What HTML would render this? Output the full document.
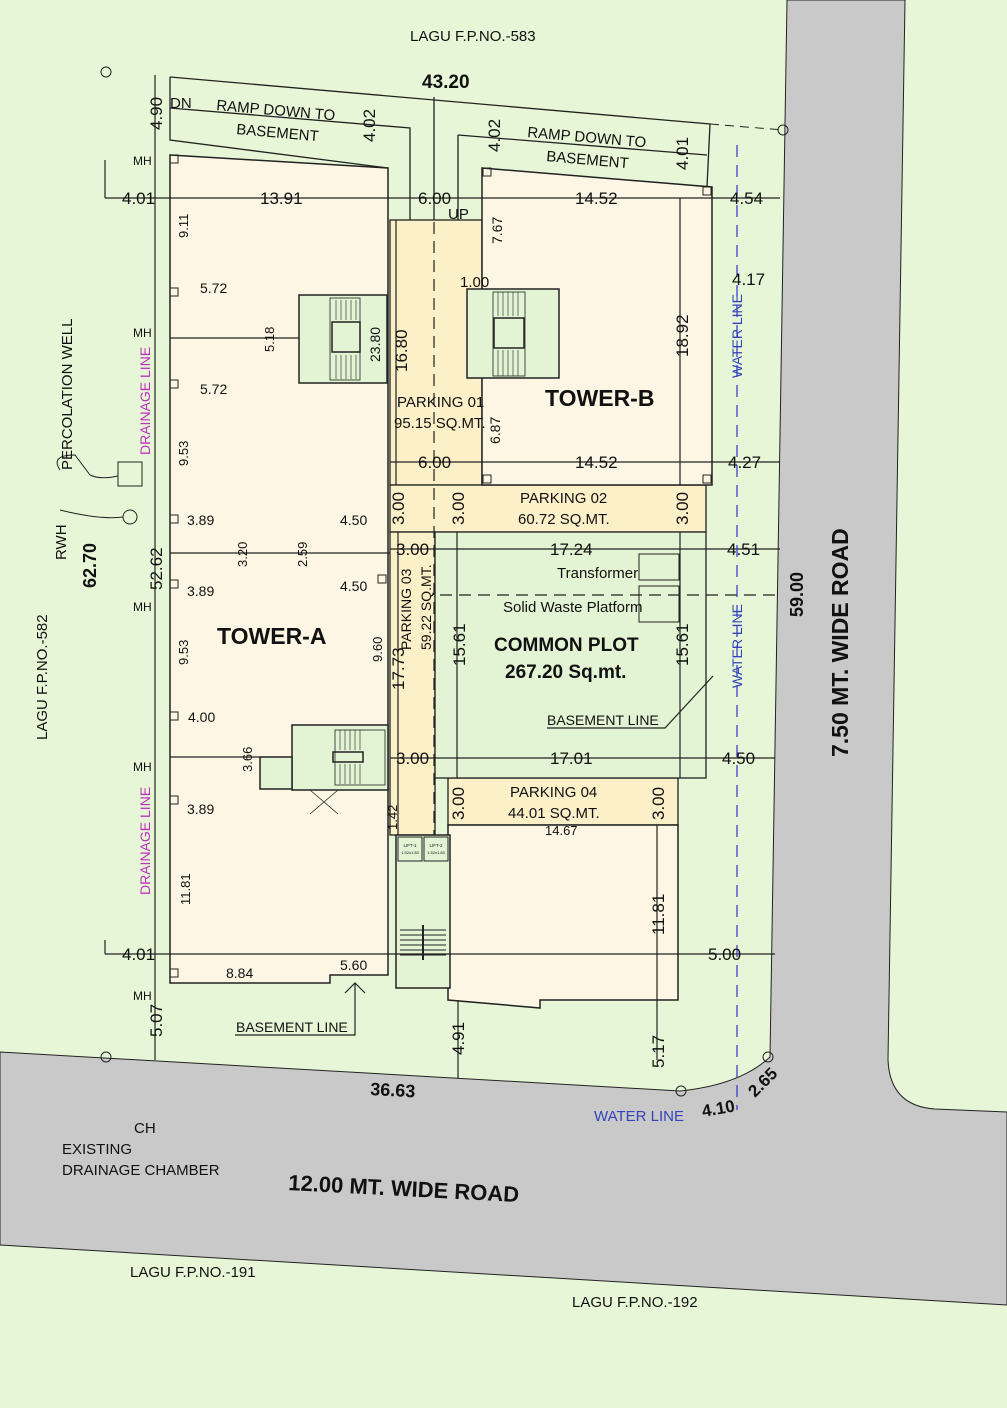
<!DOCTYPE html>
<html><head><meta charset="utf-8"><style>
html,body{margin:0;padding:0;background:#e6f6d6;}
svg{display:block}
text{font-family:"Liberation Sans Narrow","Liberation Sans",sans-serif;fill:#111;}
</style></head><body>
<svg width="1007" height="1408" viewBox="0 0 1007 1408" xmlns="http://www.w3.org/2000/svg">
<rect width="1007" height="1408" fill="#e6f6d6"/>
<path d="M0,1052 L680,1091 Q740,1085 770,1057 L787,0 L905,0 L888,1060 Q890,1106 935,1109 L1007,1112 L1007,1305 L0,1245 Z" fill="#c9c9c9" stroke="#222" stroke-width="1"/>
<g fill="none" stroke="#222" stroke-width="1.3">
<path d="M170,77 L710,124 L707,187"/>
<path d="M170,77 L170,140 L388,168"/>
<path d="M170,108 L410,128 L410,222"/>
<path d="M434,97 L434,222"/>
<path d="M458,135 L458,222"/>
<path d="M458,135 L707,155"/>
</g>
<path d="M710,124 L783,130" stroke="#222" stroke-dasharray="9,6" fill="none"/>
<path d="M170,155 L388,168 L388,975 L330,975 L330,983 L170,983 Z" fill="#fdf6e4" stroke="#222" stroke-width="1.5"/>
<rect x="390" y="220" width="92" height="265" fill="#fcf0c9" stroke="#222" stroke-width="1.3"/>
<rect x="390" y="485" width="316" height="47" fill="#fcf0c9" stroke="#222" stroke-width="1.3"/>
<rect x="390" y="532" width="45" height="303" fill="#fcf0c9" stroke="#222" stroke-width="1.3"/>
<rect x="448" y="778" width="230" height="47" fill="#fcf0c9" stroke="#222" stroke-width="1.3"/>
<path d="M482,168 L712,187 L712,485 L482,485 Z" fill="#fdf6e4" stroke="#222" stroke-width="1.5"/>
<rect x="435" y="532" width="271" height="246" fill="#e2f4d3" stroke="#222" stroke-width="1.3"/>
<path d="M448,825 L678,825 L678,1000 L540,1000 L540,1008 L448,1000 Z" fill="#fdf6e4" stroke="#222" stroke-width="1.5"/>
<rect x="396" y="835" width="54" height="153" fill="#e2f4d3" stroke="#222" stroke-width="1.5"/>
<rect x="398" y="837" width="24" height="24" fill="#e2f4d3" stroke="#222"/>
<rect x="424" y="837" width="24" height="24" fill="#e2f4d3" stroke="#222"/>
<text x="410" y="847" font-size="4.5" text-anchor="middle">LIFT-1</text><text x="436" y="847" font-size="4.5" text-anchor="middle">LIFT-2</text>
<text x="410" y="854" font-size="4" text-anchor="middle">1.52x1.83</text><text x="436" y="854" font-size="4" text-anchor="middle">1.52x1.83</text>
<g stroke="#222" stroke-width="1">
<line x1="400" y1="930" x2="446" y2="930"/><line x1="400" y1="935" x2="446" y2="935"/><line x1="400" y1="940" x2="446" y2="940"/><line x1="400" y1="945" x2="446" y2="945"/><line x1="400" y1="950" x2="446" y2="950"/><line x1="400" y1="955" x2="446" y2="955"/><line x1="423" y1="925" x2="423" y2="960" stroke-width="2"/>
</g>
<g fill="#e2f4d3" stroke="#222" stroke-width="1.5">
<rect x="299" y="295" width="88" height="88"/>
<rect x="467" y="289" width="92" height="89"/>
<rect x="292" y="725" width="96" height="65"/>
<rect x="260" y="757" width="32" height="32"/>
</g>
<g stroke="#222" stroke-width="0.8">
<rect x="330" y="298" width="30" height="82" fill="none"/>
<rect x="332" y="322" width="28" height="30" fill="#e2f4d3" stroke-width="1.5"/>
<rect x="493" y="292" width="32" height="84" fill="none"/>
<rect x="494" y="318" width="30" height="30" fill="#e2f4d3" stroke-width="1.5"/>
<rect x="335" y="730" width="50" height="55" fill="none"/>
<rect x="333" y="752" width="30" height="10" fill="none" stroke-width="1.5"/>
<line x1="310" y1="790" x2="338" y2="814"/><line x1="338" y1="790" x2="310" y2="814"/>
</g>
<g stroke="#222" stroke-width="0.6">
<path d="M336,300v20M341,300v20M346,300v20M351,300v20M356,300v20M336,355v24M341,355v24M346,355v24M351,355v24M356,355v24"/>
<path d="M498,292v24M503,292v24M508,292v24M513,292v24M518,292v24M498,350v26M503,350v26M508,350v26M513,350v26M518,350v26"/>
<path d="M340,730v20M345,730v20M350,730v20M355,730v20M360,730v20M340,764v20M345,764v20M350,764v20M355,764v20M360,764v20"/>
</g>
<g stroke="#222" stroke-width="1.2" fill="none">
<line x1="170" y1="338" x2="299" y2="338"/>
<line x1="170" y1="553" x2="390" y2="553"/>
<line x1="170" y1="757" x2="260" y2="757"/>
<line x1="155" y1="75" x2="155" y2="1060"/>
<line x1="105" y1="198" x2="390" y2="198"/>
<line x1="390" y1="198" x2="780" y2="198"/>
<line x1="390" y1="462" x2="780" y2="462"/>
<line x1="390" y1="549" x2="780" y2="549"/>
<line x1="390" y1="758" x2="775" y2="758"/>
<line x1="105" y1="954" x2="775" y2="954"/>
<line x1="680" y1="198" x2="680" y2="485"/>
<line x1="457" y1="532" x2="457" y2="778"/>
<line x1="680" y1="532" x2="680" y2="778"/>
<line x1="657" y1="825" x2="657" y2="1060"/>
<line x1="458" y1="1000" x2="458" y2="1078"/>
<line x1="396" y1="220" x2="396" y2="485"/>
<line x1="398" y1="532" x2="398" y2="835"/>
<line x1="105" y1="160" x2="105" y2="198"/>
<line x1="105" y1="940" x2="105" y2="954"/>
<path d="M547,728 L665,728 L713,676"/>
<path d="M355,983 L355,1035 L235,1035"/>
<path d="M345,993 L355,983 L365,993"/>
</g>
<g stroke="#222" stroke-width="1.2" stroke-dasharray="12,7" fill="none">
<line x1="434" y1="222" x2="434" y2="835"/>
<line x1="440" y1="595" x2="780" y2="595"/>
</g>
<g stroke="#33c" stroke-width="1.2" stroke-dasharray="12,8"><line x1="737" y1="145" x2="737" y2="1110"/></g>
<g fill="none" stroke="#222">
<rect x="170" y="155" width="8" height="8"/><rect x="170" y="288" width="8" height="8"/><rect x="170" y="380" width="8" height="8"/><rect x="170" y="515" width="8" height="8"/><rect x="170" y="580" width="8" height="8"/><rect x="170" y="712" width="8" height="8"/><rect x="170" y="796" width="8" height="8"/><rect x="170" y="969" width="8" height="8"/><rect x="378" y="575" width="8" height="8"/>
<rect x="483" y="168" width="8" height="8"/><rect x="703" y="187" width="8" height="8"/><rect x="483" y="475" width="8" height="8"/><rect x="703" y="475" width="8" height="8"/>
<rect x="639" y="554" width="40" height="26"/><rect x="639" y="586" width="40" height="36"/>
<rect x="118" y="462" width="24" height="24"/>
<circle cx="106" cy="72" r="5"/><circle cx="130" cy="517" r="7"/><circle cx="783" cy="130" r="5"/><circle cx="106" cy="1057" r="5"/><circle cx="681" cy="1091" r="5"/><circle cx="768" cy="1057" r="5"/>
<path d="M60,470 Q50,455 75,455 L90,475 Q100,480 118,476"/>
<path d="M60,510 Q100,520 123,517"/>
</g>
<g font-size="15">
<text x="410" y="41">LAGU F.P.NO.-583</text>
<text x="422" y="88" font-size="19" font-weight="bold">43.20</text>
<text x="170" y="108">DN</text>
<text x="216" y="110" transform="rotate(5 216 110)">RAMP DOWN TO</text>
<text x="236" y="134" transform="rotate(5 236 134)">BASEMENT</text>
<text x="527" y="137" transform="rotate(5 527 137)">RAMP DOWN TO</text>
<text x="546" y="161" transform="rotate(5 546 161)">BASEMENT</text>
<text x="122" y="204" font-size="17">4.01</text>
<text x="260" y="204" font-size="17">13.91</text>
<text x="418" y="204" font-size="17">6.00</text>
<text x="448" y="219">UP</text>
<text x="575" y="204" font-size="17">14.52</text>
<text x="730" y="204" font-size="17">4.54</text>
<text x="732" y="285" font-size="17">4.17</text>
<text x="200" y="293" font-size="14">5.72</text>
<text x="200" y="394" font-size="14">5.72</text>
<text x="460" y="287" font-size="15">1.00</text>
<text x="545" y="406" font-size="23" font-weight="bold">TOWER-B</text>
<text x="397" y="407">PARKING 01</text>
<text x="394" y="428">95.15 SQ.MT.</text>
<text x="418" y="468" font-size="17">6.00</text>
<text x="575" y="468" font-size="17">14.52</text>
<text x="728" y="468" font-size="17">4.27</text>
<text x="520" y="503">PARKING 02</text>
<text x="518" y="524">60.72 SQ.MT.</text>
<text x="187" y="525" font-size="14">3.89</text>
<text x="340" y="525" font-size="14">4.50</text>
<text x="187" y="596" font-size="14">3.89</text>
<text x="340" y="591" font-size="14">4.50</text>
<text x="396" y="555" font-size="17">3.00</text>
<text x="550" y="555" font-size="17">17.24</text>
<text x="727" y="555" font-size="17">4.51</text>
<text x="557" y="578">Transformer</text>
<text x="503" y="612">Solid Waste Platform</text>
<text x="217" y="644" font-size="23" font-weight="bold">TOWER-A</text>
<text x="494" y="651" font-size="19" font-weight="bold">COMMON PLOT</text>
<text x="505" y="678" font-size="19" font-weight="bold">267.20 Sq.mt.</text>
<text x="188" y="722" font-size="14">4.00</text>
<text x="547" y="725" font-size="14">BASEMENT LINE</text>
<text x="396" y="764" font-size="17">3.00</text>
<text x="550" y="764" font-size="17">17.01</text>
<text x="722" y="764" font-size="17">4.50</text>
<text x="510" y="797">PARKING 04</text>
<text x="508" y="818">44.01 SQ.MT.</text>
<text x="545" y="835" font-size="13">14.67</text>
<text x="187" y="814" font-size="14">3.89</text>
<text x="122" y="960" font-size="17">4.01</text>
<text x="708" y="960" font-size="17">5.00</text>
<text x="226" y="978" font-size="14">8.84</text>
<text x="340" y="970" font-size="14">5.60</text>
<text x="236" y="1032" font-size="14">BASEMENT LINE</text>
<text x="133" y="165" font-size="12">MH</text><text x="133" y="337" font-size="12">MH</text><text x="133" y="611" font-size="12">MH</text><text x="133" y="771" font-size="12">MH</text><text x="133" y="1000" font-size="12">MH</text>
<text x="370" y="1095" font-size="18" font-weight="bold" transform="rotate(3 370 1095)">36.63</text>
<text x="703" y="1117" font-size="17" font-weight="bold" transform="rotate(-10 703 1117)">4.10</text>
<text x="755" y="1098" font-size="17" font-weight="bold" transform="rotate(-45 755 1098)">2.65</text>
<text x="594" y="1121" style="fill:#3344bb" font-size="15">WATER LINE</text>
<text x="134" y="1133">CH</text>
<text x="62" y="1154">EXISTING</text>
<text x="62" y="1175">DRAINAGE CHAMBER</text>
<text x="288" y="1190" font-size="22" font-weight="bold" transform="rotate(3 288 1190)">12.00 MT. WIDE ROAD</text>
<text x="130" y="1277">LAGU F.P.NO.-191</text>
<text x="572" y="1307">LAGU F.P.NO.-192</text>
</g>
<g font-size="15">
<text transform="translate(162,130) rotate(-90)" font-size="17">4.90</text>
<text transform="translate(375,142) rotate(-90)" font-size="17">4.02</text>
<text transform="translate(500,152) rotate(-90)" font-size="17">4.02</text>
<text transform="translate(688,170) rotate(-90)" font-size="17">4.01</text>
<text transform="translate(188,238) rotate(-90)" font-size="13">9.11</text>
<text transform="translate(502,244) rotate(-90)" font-size="14">7.67</text>
<text transform="translate(274,352) rotate(-90)" font-size="13">5.18</text>
<text transform="translate(380,362) rotate(-90)" font-size="14">23.80</text>
<text transform="translate(407,372) rotate(-90)" font-size="17">16.80</text>
<text transform="translate(688,357) rotate(-90)" font-size="17">18.92</text>
<text transform="translate(72,470) rotate(-90)">PERCOLATION WELL</text>
<text transform="translate(150,455) rotate(-90)" style="fill:#c030c0" font-size="14">DRAINAGE LINE</text>
<text transform="translate(742,378) rotate(-90)" style="fill:#3344bb" font-size="14">WATER LINE</text>
<text transform="translate(188,466) rotate(-90)" font-size="13">9.53</text>
<text transform="translate(500,444) rotate(-90)" font-size="14">6.87</text>
<text transform="translate(404,525) rotate(-90)" font-size="17">3.00</text>
<text transform="translate(464,525) rotate(-90)" font-size="17">3.00</text>
<text transform="translate(688,525) rotate(-90)" font-size="17">3.00</text>
<text transform="translate(66,560) rotate(-90)">RWH</text>
<text transform="translate(96,588) rotate(-90)" font-size="18" font-weight="bold">62.70</text>
<text transform="translate(162,590) rotate(-90)" font-size="17">52.62</text>
<text transform="translate(247,567) rotate(-90)" font-size="13">3.20</text>
<text transform="translate(307,567) rotate(-90)" font-size="13">2.59</text>
<text transform="translate(411,650) rotate(-90)" font-size="14">PARKING 03</text>
<text transform="translate(431,650) rotate(-90)" font-size="14">59.22 SQ.MT.</text>
<text transform="translate(404,690) rotate(-90)" font-size="17">17.73</text>
<text transform="translate(465,666) rotate(-90)" font-size="17">15.61</text>
<text transform="translate(688,666) rotate(-90)" font-size="17">15.61</text>
<text transform="translate(742,688) rotate(-90)" style="fill:#3344bb" font-size="14">WATER LINE</text>
<text transform="translate(803,617) rotate(-90)" font-size="18" font-weight="bold">59.00</text>
<text transform="translate(848,757) rotate(-90)" font-size="23" font-weight="bold">7.50 MT. WIDE ROAD</text>
<text transform="translate(47,740) rotate(-90)">LAGU F.P.NO.-582</text>
<text transform="translate(188,665) rotate(-90)" font-size="13">9.53</text>
<text transform="translate(382,662) rotate(-90)" font-size="13">9.60</text>
<text transform="translate(252,772) rotate(-90)" font-size="13">3.66</text>
<text transform="translate(397,830) rotate(-90)" font-size="13">1.42</text>
<text transform="translate(464,820) rotate(-90)" font-size="17">3.00</text>
<text transform="translate(664,820) rotate(-90)" font-size="17">3.00</text>
<text transform="translate(150,895) rotate(-90)" style="fill:#c030c0" font-size="14">DRAINAGE LINE</text>
<text transform="translate(190,905) rotate(-90)" font-size="13">11.81</text>
<text transform="translate(664,935) rotate(-90)" font-size="17">11.81</text>
<text transform="translate(162,1037) rotate(-90)" font-size="17">5.07</text>
<text transform="translate(464,1055) rotate(-90)" font-size="17">4.91</text>
<text transform="translate(664,1068) rotate(-90)" font-size="17">5.17</text>
</g>
</svg>
</body></html>
